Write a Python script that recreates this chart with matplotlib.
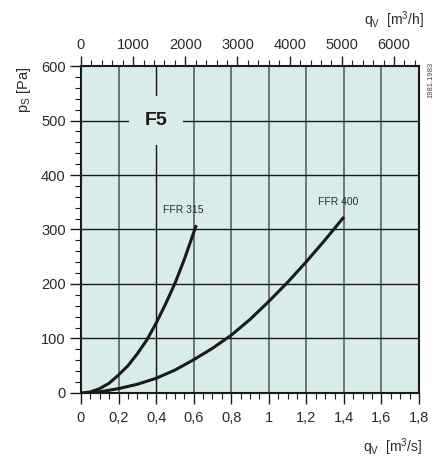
import numpy as np
import matplotlib.pyplot as plt
from matplotlib.ticker import MultipleLocator, FuncFormatter

plt.rcParams["font.family"] = ["Liberation Sans", "DejaVu Sans"]

# FFR 315 curve (q in m3/s, p in Pa)
q_315 = [0.01, 0.05, 0.1, 0.15, 0.2, 0.25, 0.3, 0.35, 0.4, 0.45, 0.5, 0.55, 0.614]
p_315 = [0, 2, 8, 18, 33, 50, 72, 97, 128, 163, 201, 245, 308]
# FFR 400 curve
q_400 = [0.0, 0.05, 0.1, 0.2, 0.3, 0.4, 0.5, 0.6, 0.7, 0.8, 0.9, 1.0, 1.1, 1.2, 1.3, 1.4]
p_400 = [0, 0.5, 2, 8, 16, 27, 42, 61, 82, 106, 135, 168, 203, 241, 281, 323]

bg = "#d8ede9"
txt = "#2a2a2a"

fig = plt.figure(figsize=(4.39, 4.62), dpi=100)
ax = fig.add_axes([0.1845, 0.1494, 0.770, 0.7077])
ax.set_facecolor(bg)
ax.set_xlim(0, 1.8)
ax.set_ylim(0, 600)

# grid
for x in np.arange(0.2, 1.8, 0.2):
    col = "#111111" if abs(x - 0.4) < 1e-6 else "#6a6a6a"
    lw = 1.0 if abs(x - 0.4) < 1e-6 else 1.3
    ax.axvline(x, color=col, lw=lw, zorder=1)
for y in range(100, 600, 100):
    ax.axhline(y, color="#1a1a1a", lw=1.0, zorder=1)

ax.plot(q_315, p_315, color="#1a1a1a", lw=2.2, zorder=3, solid_capstyle="butt")
ax.plot(q_400, p_400, color="#1a1a1a", lw=2.2, zorder=3, solid_capstyle="butt")

ax.text(0.545, 335, "FFR 315", fontsize=7.5, color=txt, ha="center", va="center", zorder=4)
ax.text(1.37, 350, "FFR 400", fontsize=7.5, color=txt, ha="center", va="center", zorder=4)

ax.text(0.4, 500, "F5", fontsize=14, fontweight="bold", color="#1a1a1a",
        ha="center", va="center", zorder=4,
        bbox=dict(facecolor=bg, edgecolor="none", boxstyle="square,pad=0.8"))

for s in ax.spines.values():
    s.set_color("#1a1a1a")
    s.set_linewidth(1.5)
    s.set_zorder(5)

ax.xaxis.set_major_locator(MultipleLocator(0.2))
ax.xaxis.set_minor_locator(MultipleLocator(0.05))
ax.yaxis.set_major_locator(MultipleLocator(100))
ax.yaxis.set_minor_locator(MultipleLocator(20))
ax.xaxis.set_major_formatter(FuncFormatter(
    lambda v, p: ("%g" % round(v, 2)).replace(".", ",")))
ax.tick_params(which="major", length=8, width=1.0, color="#1a1a1a",
               labelsize=10.5, labelcolor=txt, pad=3)
ax.tick_params(which="minor", length=4, width=0.8, color="#1a1a1a")
ax.tick_params(axis="x", which="major", pad=5)

# top axis in m3/h
top = ax.secondary_xaxis("top", functions=(lambda q: q * 3600, lambda h: h / 3600))
top.xaxis.set_major_locator(MultipleLocator(1000))
top.xaxis.set_minor_locator(MultipleLocator(200))
top.tick_params(which="major", length=7, width=1.0, color="#1a1a1a",
                labelsize=10.5, labelcolor=txt, pad=3)
top.tick_params(which="minor", length=4, width=0.8, color="#1a1a1a")
top.spines["top"].set_visible(False)

fig.text(0.898, 0.957, r"q$_\mathregular{V}$  [m$^\mathregular{3}$/h]", fontsize=10,
         color=txt, ha="center", va="center")
fig.text(0.895, 0.032, r"q$_\mathregular{V}$  [m$^\mathregular{3}$/s]", fontsize=10,
         color=txt, ha="center", va="center")
fig.text(0.055, 0.805, r"p$_\mathregular{S}$ [Pa]", fontsize=10.5, color=txt,
         rotation=90, ha="center", va="center")
fig.text(0.982, 0.827, "1981.1983", fontsize=5.5, color="#444444",
         rotation=90, ha="center", va="center")

fig.savefig("out.png", dpi=100, facecolor="white")
